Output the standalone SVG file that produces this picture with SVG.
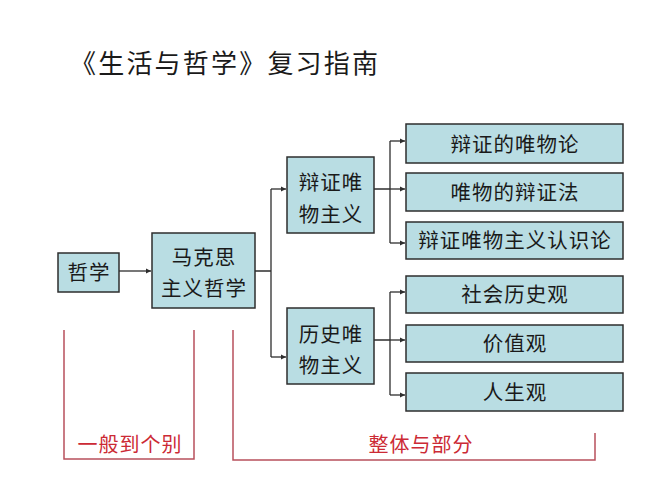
<svg xmlns="http://www.w3.org/2000/svg" width="650" height="487" viewBox="0 0 650 487">
<style>
.box{fill:#b9dde3;stroke:#2e2e2e;stroke-width:1.5}
.t{font-family:"Liberation Sans","Noto Sans CJK SC",sans-serif;font-size:20.5px;fill:#1a1a1a;text-anchor:middle;letter-spacing:1px}
.title{font-family:"Liberation Sans","Noto Sans CJK SC",sans-serif;font-size:26px;fill:#1a1a1a;letter-spacing:2.2px}
.red{font-family:"Liberation Sans","Noto Sans CJK SC",sans-serif;font-size:20px;fill:#cc2a35;text-anchor:middle;letter-spacing:1px}
.ln{fill:none;stroke:#2e2e2e;stroke-width:1.3}
.br{fill:none;stroke:#b8505c;stroke-width:1.5}
</style>
<defs>
<marker id="ah" markerWidth="6" markerHeight="6" refX="5" refY="3" orient="auto" markerUnits="userSpaceOnUse">
<path d="M0,0.5 L5,3 L0,5.5 z" fill="#2e2e2e"/>
</marker>
</defs>
<rect width="650" height="487" fill="#ffffff"/>
<text class="title" x="70" y="73">《生活与哲学》复习指南</text>

<g id="connectors">
<path class="ln" d="M119,271 H151" marker-end="url(#ah)"/>
<path class="ln" d="M255,271 H271 M271,189 V357"/>
<path class="ln" d="M271,189 H286" marker-end="url(#ah)"/>
<path class="ln" d="M271,357 H286" marker-end="url(#ah)"/>
<path class="ln" d="M374,189 H390 M390,141 V243"/>
<path class="ln" d="M390,141 H405" marker-end="url(#ah)"/>
<path class="ln" d="M390,189 H405" marker-end="url(#ah)"/>
<path class="ln" d="M390,243 H405" marker-end="url(#ah)"/>
<path class="ln" d="M374,340 H390 M390,292 V395"/>
<path class="ln" d="M390,292 H405" marker-end="url(#ah)"/>
<path class="ln" d="M390,340 H405" marker-end="url(#ah)"/>
<path class="ln" d="M390,395 H405" marker-end="url(#ah)"/>
</g>

<g id="zhexue"><rect class="box" x="58" y="253" width="61" height="39"/><text class="t" x="89" y="280">哲学</text></g>
<g id="makesi"><rect class="box" x="152" y="233" width="103" height="75"/><text class="t" x="204" y="265">马克思</text><text class="t" x="204" y="296">主义哲学</text></g>
<g id="bianzheng"><rect class="box" x="287" y="157" width="87" height="76"/><text class="t" x="331" y="190">辩证唯</text><text class="t" x="331" y="222">物主义</text></g>
<g id="lishi"><rect class="box" x="287" y="308" width="87" height="76"/><text class="t" x="331" y="342">历史唯</text><text class="t" x="331" y="373">物主义</text></g>
<g id="b1"><rect class="box" x="406" y="124" width="217" height="39"/><text class="t" x="515" y="152">辩证的唯物论</text></g>
<g id="b2"><rect class="box" x="406" y="173" width="217" height="38"/><text class="t" x="515" y="200">唯物的辩证法</text></g>
<g id="b3"><rect class="box" x="406" y="222" width="217" height="37"/><text class="t" x="515" y="248">辩证唯物主义认识论</text></g>
<g id="b4"><rect class="box" x="406" y="276" width="217" height="37"/><text class="t" x="515" y="302">社会历史观</text></g>
<g id="b5"><rect class="box" x="406" y="325" width="217" height="37"/><text class="t" x="515" y="351">价值观</text></g>
<g id="b6"><rect class="box" x="406" y="373" width="217" height="38"/><text class="t" x="515" y="400">人生观</text></g>

<g id="brackets">
<path class="br" d="M64,330 V459 H194 V330"/>
<path class="br" d="M233,330 V460 H595 V433"/>
<text class="red" x="130" y="452">一般到个别</text>
<text class="red" x="421" y="452">整体与部分</text>
</g>
</svg>
